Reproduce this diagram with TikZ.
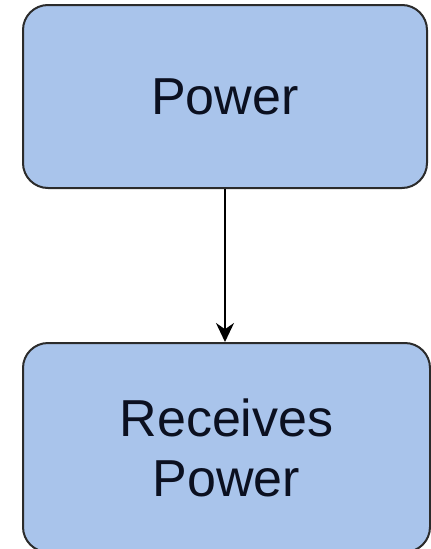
\documentclass[tikz,border=0pt]{standalone}
\usepackage{fontspec}
\setmainfont{Liberation Sans}
\usepackage{tikz}
\usetikzlibrary{arrows.meta}
\usetikzlibrary{positioning}

\definecolor{boxblue}{HTML}{A9C4EB}
\definecolor{boxline}{HTML}{2B2B2B}
\definecolor{textdark}{HTML}{0B1020}

\begin{document}
\begin{tikzpicture}[x=1pt,y=-1pt]
        \useasboundingbox (0,0) rectangle (431,549);
        \clip (0,0) rectangle (431,549);
        \begin{scope}[every node/.style={rectangle,rounded corners=25pt,
            draw=boxline,line width=2pt,fill=boxblue,inner sep=0pt,
            text=textdark,align=center,font={\fontsize{52}{60}\selectfont}}]
            \node[minimum width=404pt,minimum height=183pt] (1) at (225, 96.5) {Power};
            \node[minimum width=407pt,minimum height=209pt] (2) at (226.5, 447.5) {Receives\\Power};
        \end{scope}
        \begin{scope}[>={Stealth[black,length=19pt,width=18pt]},
            every edge/.style={draw=black,line width=1.6pt}]
                    \path[->] (1.south) edge node {} (1.south |- 2.north);
        \end{scope}
    \end{tikzpicture}
\end{document}
